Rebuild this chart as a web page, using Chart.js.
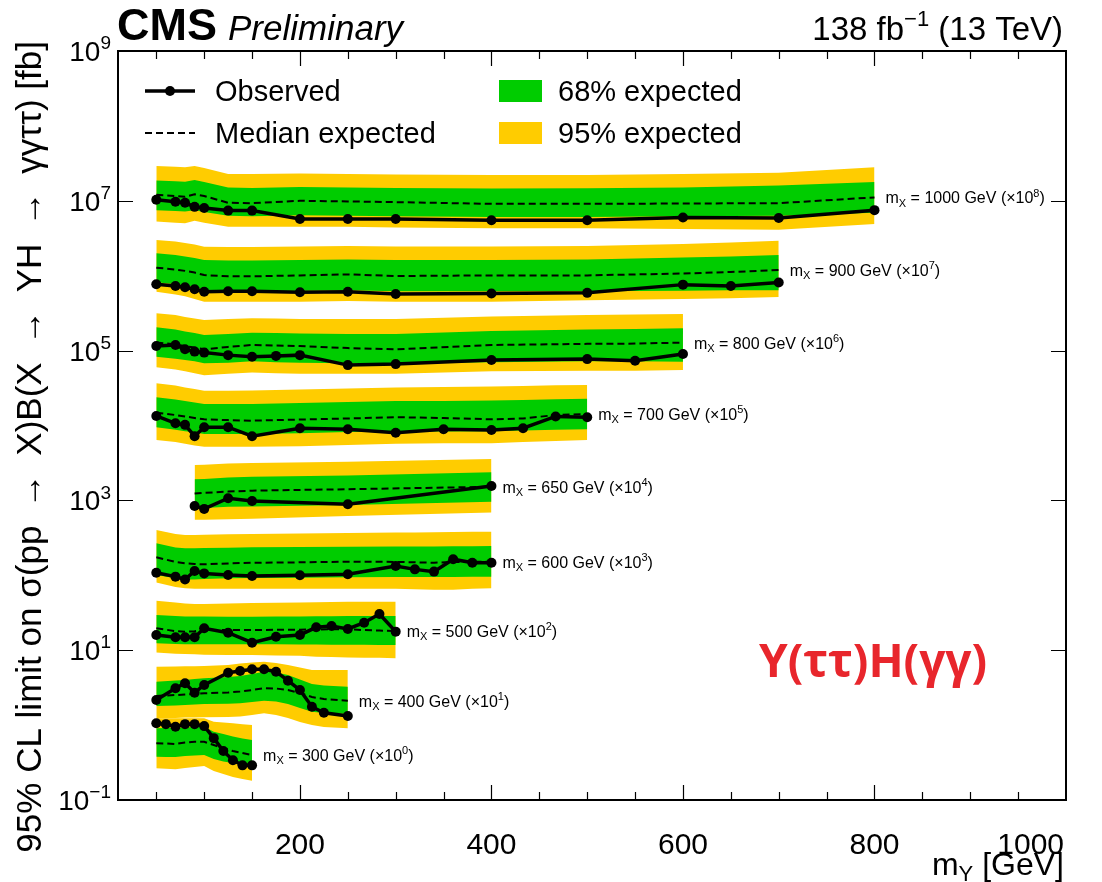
<!DOCTYPE html>
<html>
<head>
<meta charset="utf-8">
<script src="https://cdn.jsdelivr.net/npm/chart.js@4.4.1/dist/chart.umd.min.js"></script>
<style>
  html, body { margin: 0; padding: 0; background: #fff; }
  canvas { display: block; }
</style>
</head>
<body>
<canvas id="limits" width="1102" height="882"></canvas>
<script>
// 95% CL limits in fb, before the per-curve scale factor (x10^n) used for display

// mX = 300 GeV (x10^0)
const mY_300 = [50, 60, 70, 80, 90, 100, 110, 120, 130, 140, 150];
const obs_300 = [1.06, 1.03, 0.95, 1.03, 1.03, 0.97, 0.67, 0.45, 0.34, 0.29, 0.29];
const exp_300 = [0.572, 0.568, 0.559, 0.586, 0.600, 0.600, 0.542, 0.490, 0.451, 0.424, 0.399];
const hi1_300 = [0.906, 0.915, 0.915, 0.929, 0.943, 0.952, 0.816, 0.761, 0.704, 0.662, 0.633];
const lo1_300 = [0.379, 0.375, 0.375, 0.387, 0.393, 0.399, 0.353, 0.327, 0.312, 0.302, 0.293];
const hi2_300 = [1.23, 1.23, 1.23, 1.23, 1.23, 1.23, 1.11, 1.08, 1.06, 1.03, 1.00];
const lo2_300 = [0.265, 0.261, 0.257, 0.267, 0.276, 0.284, 0.244, 0.222, 0.203, 0.191, 0.181];

// mX = 400 GeV (x10^1)
const mY_400 = [50, 70, 80, 90, 100, 125, 137.5, 150, 162.5, 175, 187.5, 200, 212.5, 225, 250];
const obs_400 = [0.216, 0.310, 0.362, 0.271, 0.343, 0.501, 0.528, 0.556, 0.556, 0.516, 0.392, 0.294, 0.176, 0.146, 0.132];
const exp_400 = [0.245, 0.252, 0.256, 0.260, 0.266, 0.272, 0.281, 0.294, 0.310, 0.308, 0.294, 0.268, 0.237, 0.223, 0.212];
const hi1_400 = [0.380, 0.394, 0.400, 0.413, 0.422, 0.439, 0.452, 0.481, 0.516, 0.504, 0.467, 0.406, 0.354, 0.338, 0.326];
const lo1_400 = [0.180, 0.183, 0.186, 0.188, 0.191, 0.193, 0.196, 0.203, 0.212, 0.207, 0.191, 0.169, 0.151, 0.145, 0.141];
const hi2_400 = [0.602, 0.606, 0.610, 0.612, 0.615, 0.635, 0.664, 0.685, 0.702, 0.675, 0.635, 0.588, 0.544, 0.544, 0.544];
const lo2_400 = [0.123, 0.124, 0.126, 0.126, 0.127, 0.128, 0.130, 0.136, 0.144, 0.136, 0.124, 0.110, 0.100, 0.094, 0.091];

// mX = 500 GeV (x10^2)
const mY_500 = [50, 70, 80, 90, 100, 125, 150, 175, 200, 217, 233, 250, 267, 283, 300];
const obs_500 = [0.160, 0.149, 0.149, 0.149, 0.196, 0.171, 0.126, 0.151, 0.160, 0.202, 0.210, 0.192, 0.233, 0.304, 0.177];
const exp_500 = [0.196, 0.180, 0.177, 0.179, 0.186, 0.186, 0.186, 0.187, 0.188, 0.189, 0.190, 0.190, 0.186, 0.183, 0.180];
const hi1_500 = [0.295, 0.286, 0.282, 0.282, 0.282, 0.280, 0.280, 0.282, 0.282, 0.284, 0.284, 0.286, 0.286, 0.286, 0.286];
const lo1_500 = [0.124, 0.121, 0.120, 0.120, 0.120, 0.120, 0.120, 0.120, 0.119, 0.119, 0.118, 0.118, 0.118, 0.117, 0.117];
const hi2_500 = [0.458, 0.433, 0.420, 0.414, 0.414, 0.420, 0.427, 0.429, 0.433, 0.436, 0.440, 0.443, 0.443, 0.444, 0.444];
const lo2_500 = [0.093, 0.090, 0.089, 0.088, 0.087, 0.086, 0.086, 0.085, 0.084, 0.082, 0.081, 0.080, 0.079, 0.079, 0.078];

// mX = 600 GeV (x10^3)
const mY_600 = [50, 70, 80, 90, 100, 125, 150, 200, 250, 300, 320, 340, 360, 380, 400];
const obs_600 = [0.108, 0.096, 0.088, 0.114, 0.106, 0.101, 0.098, 0.100, 0.103, 0.133, 0.120, 0.112, 0.164, 0.147, 0.147];
const exp_600 = [0.174, 0.151, 0.145, 0.142, 0.140, 0.144, 0.147, 0.149, 0.152, 0.151, 0.149, 0.147, 0.151, 0.151, 0.152];
const hi1_600 = [0.267, 0.235, 0.229, 0.229, 0.232, 0.234, 0.237, 0.239, 0.241, 0.242, 0.242, 0.242, 0.244, 0.245, 0.246];
const lo1_600 = [0.101, 0.091, 0.088, 0.088, 0.089, 0.091, 0.092, 0.093, 0.094, 0.095, 0.095, 0.095, 0.095, 0.096, 0.096];
const hi2_600 = [0.403, 0.356, 0.345, 0.345, 0.348, 0.353, 0.356, 0.362, 0.367, 0.373, 0.373, 0.375, 0.379, 0.381, 0.382];
const lo2_600 = [0.080, 0.070, 0.067, 0.066, 0.066, 0.066, 0.066, 0.066, 0.066, 0.066, 0.065, 0.064, 0.064, 0.066, 0.067];

// mX = 650 GeV (x10^4)
const mY_650 = [90, 100, 125, 150, 250, 400];
const obs_650 = [0.084, 0.077, 0.107, 0.098, 0.089, 0.156];
const exp_650 = [0.124, 0.126, 0.131, 0.135, 0.141, 0.152];
const hi1_650 = [0.191, 0.193, 0.202, 0.207, 0.215, 0.237];
const lo1_650 = [0.078, 0.079, 0.082, 0.083, 0.087, 0.096];
const hi2_650 = [0.297, 0.300, 0.311, 0.316, 0.329, 0.357];
const lo2_650 = [0.055, 0.055, 0.056, 0.057, 0.062, 0.069];

// mX = 700 GeV (x10^5)
const mY_700 = [50, 70, 80, 90, 100, 125, 150, 200, 250, 300, 350, 400, 433, 467, 500];
const obs_700 = [0.134, 0.107, 0.102, 0.072, 0.095, 0.095, 0.072, 0.092, 0.089, 0.080, 0.089, 0.087, 0.092, 0.132, 0.129];
const exp_700 = [0.148, 0.138, 0.132, 0.126, 0.121, 0.118, 0.116, 0.120, 0.124, 0.129, 0.126, 0.121, 0.124, 0.138, 0.142];
const hi1_700 = [0.238, 0.222, 0.212, 0.203, 0.194, 0.194, 0.194, 0.200, 0.206, 0.212, 0.212, 0.216, 0.219, 0.224, 0.228];
const lo1_700 = [0.095, 0.088, 0.084, 0.081, 0.077, 0.077, 0.077, 0.079, 0.082, 0.083, 0.083, 0.084, 0.086, 0.088, 0.089];
const hi2_700 = [0.366, 0.342, 0.322, 0.307, 0.292, 0.292, 0.293, 0.302, 0.312, 0.322, 0.327, 0.332, 0.337, 0.345, 0.347];
const lo2_700 = [0.064, 0.060, 0.057, 0.054, 0.052, 0.052, 0.052, 0.053, 0.055, 0.057, 0.058, 0.058, 0.060, 0.062, 0.064];

// mX = 800 GeV (x10^6)
const mY_800 = [50, 70, 80, 90, 100, 125, 150, 175, 200, 250, 300, 400, 500, 550, 600];
const obs_800 = [0.115, 0.119, 0.104, 0.097, 0.094, 0.087, 0.083, 0.085, 0.087, 0.064, 0.066, 0.075, 0.077, 0.073, 0.090];
const exp_800 = [0.128, 0.121, 0.115, 0.110, 0.104, 0.112, 0.119, 0.117, 0.115, 0.108, 0.104, 0.119, 0.123, 0.124, 0.128];
const hi1_800 = [0.205, 0.191, 0.180, 0.172, 0.162, 0.167, 0.173, 0.172, 0.169, 0.167, 0.167, 0.183, 0.191, 0.194, 0.199];
const lo1_800 = [0.083, 0.078, 0.075, 0.072, 0.068, 0.069, 0.072, 0.070, 0.069, 0.068, 0.068, 0.070, 0.072, 0.072, 0.071];
const hi2_800 = [0.315, 0.299, 0.281, 0.268, 0.256, 0.264, 0.270, 0.268, 0.264, 0.264, 0.264, 0.285, 0.299, 0.303, 0.308];
const lo2_800 = [0.060, 0.056, 0.053, 0.050, 0.047, 0.049, 0.051, 0.050, 0.049, 0.049, 0.049, 0.053, 0.054, 0.054, 0.055];

// mX = 900 GeV (x10^7)
const mY_900 = [50, 70, 80, 90, 100, 125, 150, 200, 250, 300, 400, 500, 600, 650, 700];
const obs_900 = [0.077, 0.073, 0.070, 0.066, 0.061, 0.062, 0.062, 0.060, 0.061, 0.057, 0.058, 0.059, 0.076, 0.073, 0.081];
const exp_900 = [0.128, 0.121, 0.116, 0.110, 0.102, 0.098, 0.098, 0.101, 0.104, 0.099, 0.101, 0.101, 0.107, 0.112, 0.119];
const hi1_900 = [0.199, 0.189, 0.180, 0.172, 0.162, 0.160, 0.160, 0.162, 0.165, 0.162, 0.162, 0.165, 0.175, 0.180, 0.189];
const lo1_900 = [0.082, 0.077, 0.074, 0.071, 0.065, 0.062, 0.062, 0.063, 0.064, 0.062, 0.062, 0.062, 0.063, 0.064, 0.064];
const hi2_900 = [0.300, 0.286, 0.273, 0.261, 0.244, 0.242, 0.242, 0.245, 0.249, 0.245, 0.245, 0.249, 0.265, 0.278, 0.293];
const lo2_900 = [0.061, 0.056, 0.053, 0.049, 0.045, 0.045, 0.045, 0.045, 0.046, 0.045, 0.045, 0.047, 0.049, 0.050, 0.052];

// mX = 1000 GeV (x10^8)
const mY_1000 = [50, 70, 80, 90, 100, 125, 150, 200, 250, 300, 400, 500, 600, 700, 800];
const obs_1000 = [0.103, 0.097, 0.094, 0.083, 0.080, 0.074, 0.074, 0.057, 0.057, 0.057, 0.055, 0.055, 0.060, 0.059, 0.075];
const exp_1000 = [0.120, 0.116, 0.113, 0.122, 0.116, 0.094, 0.093, 0.100, 0.098, 0.096, 0.091, 0.091, 0.092, 0.093, 0.111];
const hi1_1000 = [0.186, 0.182, 0.180, 0.190, 0.178, 0.151, 0.148, 0.153, 0.151, 0.148, 0.146, 0.147, 0.151, 0.160, 0.178];
const lo1_1000 = [0.075, 0.073, 0.072, 0.075, 0.071, 0.063, 0.062, 0.064, 0.063, 0.062, 0.061, 0.061, 0.062, 0.063, 0.069];
const hi2_1000 = [0.292, 0.285, 0.280, 0.292, 0.274, 0.228, 0.228, 0.232, 0.228, 0.225, 0.221, 0.221, 0.228, 0.237, 0.280];
const lo2_1000 = [0.053, 0.051, 0.050, 0.054, 0.051, 0.045, 0.045, 0.045, 0.045, 0.044, 0.043, 0.043, 0.042, 0.041, 0.049];

// axis ticks
const xTickLabels = [200, 400, 600, 800, 1000];
const yTickPowers = [-1, 1, 3, 5, 7, 9];

const groups = [
  { mX: 300, pow: 0, mY: mY_300, obs: obs_300, exp: exp_300, hi1: hi1_300, lo1: lo1_300, hi2: hi2_300, lo2: lo2_300 },
  { mX: 400, pow: 1, mY: mY_400, obs: obs_400, exp: exp_400, hi1: hi1_400, lo1: lo1_400, hi2: hi2_400, lo2: lo2_400 },
  { mX: 500, pow: 2, mY: mY_500, obs: obs_500, exp: exp_500, hi1: hi1_500, lo1: lo1_500, hi2: hi2_500, lo2: lo2_500 },
  { mX: 600, pow: 3, mY: mY_600, obs: obs_600, exp: exp_600, hi1: hi1_600, lo1: lo1_600, hi2: hi2_600, lo2: lo2_600 },
  { mX: 650, pow: 4, mY: mY_650, obs: obs_650, exp: exp_650, hi1: hi1_650, lo1: lo1_650, hi2: hi2_650, lo2: lo2_650 },
  { mX: 700, pow: 5, mY: mY_700, obs: obs_700, exp: exp_700, hi1: hi1_700, lo1: lo1_700, hi2: hi2_700, lo2: lo2_700 },
  { mX: 800, pow: 6, mY: mY_800, obs: obs_800, exp: exp_800, hi1: hi1_800, lo1: lo1_800, hi2: hi2_800, lo2: lo2_800 },
  { mX: 900, pow: 7, mY: mY_900, obs: obs_900, exp: exp_900, hi1: hi1_900, lo1: lo1_900, hi2: hi2_900, lo2: lo2_900 },
  { mX: 1000, pow: 8, mY: mY_1000, obs: obs_1000, exp: exp_1000, hi1: hi1_1000, lo1: lo1_1000, hi2: hi2_1000, lo2: lo2_1000 },
];

const GREEN = "#00cc00";
const YELLOW = "#ffcc00";
const FONT = "'Liberation Sans', Arial, Helvetica, sans-serif";
const NONE = "rgba(0,0,0,0)";

function points(xs, ys, scale) {
  return xs.map((x, i) => ({ x: x, y: ys[i] * scale }));
}

const datasets = [];
groups.forEach(g => {
  const f = Math.pow(10, g.pow);
  // 95% band (upper edge fills down to the next dataset)
  datasets.push({ data: points(g.mY, g.hi2, f), fill: "+1", backgroundColor: YELLOW, borderColor: NONE, borderWidth: 0, pointRadius: 0, order: 4 });
  datasets.push({ data: points(g.mY, g.lo2, f), fill: false, borderColor: NONE, borderWidth: 0, pointRadius: 0, order: 4 });
  // 68% band
  datasets.push({ data: points(g.mY, g.hi1, f), fill: "+1", backgroundColor: GREEN, borderColor: NONE, borderWidth: 0, pointRadius: 0, order: 3 });
  datasets.push({ data: points(g.mY, g.lo1, f), fill: false, borderColor: NONE, borderWidth: 0, pointRadius: 0, order: 3 });
  // median expected
  datasets.push({ data: points(g.mY, g.exp, f), fill: false, borderColor: "#000", borderWidth: 2, borderDash: [7, 4], pointRadius: 0, order: 2 });
  // observed
  datasets.push({ data: points(g.mY, g.obs, f), fill: false, borderColor: "#000", borderWidth: 3.5, pointRadius: 5, pointBackgroundColor: "#000", pointBorderWidth: 0, order: 1 });
});

// text with sub/superscript pieces: parts = [[text, kind], ...], kind '' | 'sub' | 'sup'
function richText(ctx, parts, x, y, size, align, weight) {
  const w = weight || "";
  const fontOf = k => (k ? `${w} ${Math.round(size * 0.68)}px ${FONT}` : `${w} ${size}px ${FONT}`);
  const widths = parts.map(([t, k]) => { ctx.font = fontOf(k); return ctx.measureText(t).width; });
  const total = widths.reduce((s, v) => s + v, 0);
  let cx = align === "right" ? x - total : align === "center" ? x - total / 2 : x;
  ctx.textAlign = "left";
  ctx.textBaseline = "alphabetic";
  parts.forEach(([t, k], i) => {
    ctx.font = fontOf(k);
    const dy = k === "sup" ? -0.42 * size : k === "sub" ? 0.2 * size : 0;
    ctx.fillText(t, cx, y + dy);
    cx += widths[i];
  });
}

const decor = {
  id: "decor",
  afterDraw(chart) {
    const ctx = chart.ctx;
    const a = chart.chartArea;
    const xs = chart.scales.x;
    const ys = chart.scales.y;
    ctx.save();
    ctx.fillStyle = "#000";
    ctx.strokeStyle = "#000";

    // ticks (inside the frame, on all four sides)
    ctx.lineWidth = 1.2;
    ctx.beginPath();
    for (let v = 50; v < 1000; v += 50) {
      const px = Math.round(xs.getPixelForValue(v)) + 0.5;
      const len = xTickLabels.includes(v) ? 15 : 8;
      ctx.moveTo(px, a.bottom); ctx.lineTo(px, a.bottom - len);
      ctx.moveTo(px, a.top); ctx.lineTo(px, a.top + len);
    }
    yTickPowers.forEach(p => {
      const py = Math.round(ys.getPixelForValue(Math.pow(10, p))) + 0.5;
      ctx.moveTo(a.left, py); ctx.lineTo(a.left + 15, py);
      ctx.moveTo(a.right, py); ctx.lineTo(a.right - 15, py);
    });
    ctx.stroke();

    // frame
    ctx.lineWidth = 2;
    ctx.strokeRect(a.left, a.top, a.right - a.left, a.bottom - a.top);

    // x tick labels (the last one is kept inside the frame edge)
    ctx.font = `30px ${FONT}`;
    ctx.textBaseline = "alphabetic";
    xTickLabels.forEach(v => {
      const px = xs.getPixelForValue(v);
      const w = ctx.measureText(String(v)).width;
      ctx.textAlign = px + w / 2 > a.right ? "right" : "center";
      ctx.fillText(String(v), ctx.textAlign === "right" ? a.right - 2 : px, 854);
    });

    // y tick labels 10^n
    yTickPowers.forEach(p => {
      const py = ys.getPixelForValue(Math.pow(10, p));
      richText(ctx, [["10", ""], [String(p).replace("-", "\u2212"), "sup"]], 111, py + 10, 28, "right");
    });

    // axis titles
    richText(ctx, [["m", ""], ["Y", "sub"], [" [GeV]", ""]], 1064, 875, 32, "right");
    ctx.save();
    ctx.translate(31, 41);
    ctx.rotate(-Math.PI / 2);
    ctx.font = `35px ${FONT}`;
    ctx.textAlign = "right";
    ctx.textBaseline = "middle";
    const arrow = "\u2002\u2192\u2002";
    ctx.fillText("95% CL limit on \u03c3(pp" + arrow + "X)B(X" + arrow + "YH" + arrow + "\u03b3\u03b3\u03c4\u03c4) [fb]", 0, 0);
    ctx.restore();

    // header
    ctx.textAlign = "left";
    ctx.textBaseline = "alphabetic";
    ctx.font = `bold 45px ${FONT}`;
    ctx.fillText("CMS", 117, 40);
    ctx.font = `italic 35px ${FONT}`;
    ctx.fillText("Preliminary", 228, 40);
    richText(ctx, [["138 fb", ""], ["\u22121", "sup"], [" (13 TeV)", ""]], 1063, 40, 33, "right");

    // legend
    ctx.lineWidth = 3.5;
    ctx.setLineDash([]);
    ctx.beginPath(); ctx.moveTo(145, 91); ctx.lineTo(195, 91); ctx.stroke();
    ctx.beginPath(); ctx.arc(170, 91, 5, 0, Math.PI * 2); ctx.fill();
    ctx.lineWidth = 2;
    ctx.setLineDash([7, 4]);
    ctx.beginPath(); ctx.moveTo(145, 133); ctx.lineTo(195, 133); ctx.stroke();
    ctx.setLineDash([]);
    ctx.fillStyle = GREEN; ctx.fillRect(499, 80, 43, 22);
    ctx.fillStyle = YELLOW; ctx.fillRect(499, 122, 43, 22);
    ctx.fillStyle = "#000";
    ctx.font = `29px ${FONT}`;
    ctx.fillText("Observed", 215, 101);
    ctx.fillText("Median expected", 215, 143);
    ctx.fillText("68% expected", 558, 101);
    ctx.fillText("95% expected", 558, 143);

    // curve labels, next to the last median point of each mX
    groups.forEach(g => {
      const n = g.mY.length - 1;
      const px = xs.getPixelForValue(g.mY[n]) + 11;
      const py = ys.getPixelForValue(g.exp[n] * Math.pow(10, g.pow));
      richText(ctx, [["m", ""], ["X", "sub"], [" = " + g.mX + " GeV (\u00d710", ""], [String(g.pow), "sup"], [")", ""]], px, py + 6, 16, "left");
    });

    // channel tag
    ctx.fillStyle = "#e8262c";
    ctx.font = `bold 46px 'Open Sans', ${FONT}`;
    ctx.textAlign = "center";
    ctx.textBaseline = "middle";
    ctx.fillText("Y(\u03c4\u03c4)H(\u03b3\u03b3)", 873, 664);

    ctx.restore();
  }
};

new Chart(document.getElementById("limits"), {
  type: "line",
  data: { datasets: datasets },
  options: {
    responsive: false,
    animation: false,
    devicePixelRatio: 1,
    events: [],
    layout: { padding: { left: 118, top: 51, right: 36, bottom: 82 } },
    elements: { line: { tension: 0 } },
    plugins: { legend: { display: false }, tooltip: { enabled: false } },
    scales: {
      x: { type: "linear", min: 10, max: 1000, display: false },
      y: { type: "logarithmic", min: 0.1, max: 1e9, display: false },
    },
  },
  plugins: [decor],
});
</script>
</body>
</html>
